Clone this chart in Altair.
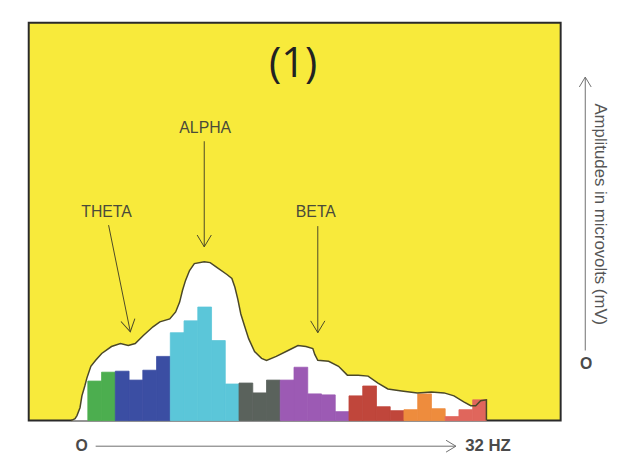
import math
import altair as alt
import pandas as pd

# ---------------- data ----------------
# frequency bands (colour groups of the spectrum bars)
bands = ["Band A", "Band B", "Band C", "Band D", "Band E", "Band F", "Band G", "Band H"]
band_colors = ["#4cae4f", "#3b4ea3", "#5bc6d9", "#5a625c", "#9c5ab4", "#c0463b", "#ee8c3d", "#e0665c"]
band_bins = [2, 4, 5, 3, 5, 4, 3, 3]

# amplitude of every frequency bin (arbitrary microvolt units)
bin_heights = [40, 49,
               50, 41, 51, 65,
               89, 101, 115, 81, 37,
               38, 28, 41,
               41, 54, 27, 26, 9,
               25, 35, 14, 10,
               11, 27, 12,
               4, 11, 21]

# envelope (white area with outline)
env_x = [-1.22, -0.93, -0.79, -0.57, -0.43, -0.22, -0.07, 0.22, 0.57, 1.01, 1.72, 2.37,
         2.94, 3.45, 4.02, 4.74, 5.24, 5.96, 6.39, 6.68, 6.89, 7.11, 7.40, 7.75, 8.47,
         8.90, 9.41, 10.12, 10.48, 10.70, 10.91, 11.13, 11.42, 11.70, 12.13, 12.64, 13.00,
         13.71, 14.57, 15.29, 15.87, 16.37, 16.51, 16.73, 17.52, 18.24, 18.88, 19.67, 20.39,
         21.11, 21.83, 22.83, 23.98, 24.99, 25.92, 26.64, 27.35, 27.86, 28.22, 28.58, 29.0, 29.0]
env_y = [0, 2, 5, 13, 25, 35, 43, 55, 61, 68, 75, 78,
         76, 78, 86, 95, 100, 103, 110, 120, 132, 142, 152, 159, 161,
         160, 155, 148, 144, 135, 123, 108, 95, 83, 70, 63, 61,
         65, 71, 76, 75, 73, 67, 61, 60, 55, 46, 46, 45,
         38, 32, 30, 28, 29, 28, 25, 19, 15, 15, 20, 21, 0]

# annotations (in the same data units)
label_text = ["THETA", "ALPHA", "BETA"]
label_x = [1.36, 8.54, 16.59]
label_y = [211, 296, 211]
arrow_x0 = [1.51, 8.47, 16.73]
arrow_y0 = [198, 283, 197]
arrow_x1 = [3.09, 8.47, 16.73]
arrow_y1 = [90, 176, 89]

title_text = "(1)"
title_x, title_y = 14.93, 361

axis_y_text = "Amplitudes in microvolts (mV)"
axis_y_x, axis_y_mid = 37.25, 209
axis_y_arrow = (36.19, 71, 36.19, 348)
axis_y_origin = (36.25, 57)

axis_x_arrow = (0.57, -26, 26.78, -26)
axis_x_origin = (-0.45, -26)
axis_x_end_text = "32 HZ"
axis_x_end = (27.45, -26)

# ---------------- frames ----------------
bin_band = [b for b, n in zip(bands, band_bins) for _ in range(n)]
bars = pd.DataFrame({
    "x0": list(range(len(bin_heights))),
    "x1": [i + 1 for i in range(len(bin_heights))],
    "h": bin_heights,
    "base": [0] * len(bin_heights),
    "band": bin_band,
})
env = pd.DataFrame({"u": env_x, "v": env_y, "i": list(range(len(env_x)))})

X_DOMAIN = [-4.3, 34.4]
Y_DOMAIN = [0, 403]
W, H = 539, 403
kx = W / (X_DOMAIN[1] - X_DOMAIN[0])
ky = H / (Y_DOMAIN[1] - Y_DOMAIN[0])


def head_angle(x0, y0, x1, y1):
    dx = (x1 - x0) * kx
    dy = -(y1 - y0) * ky
    return math.degrees(math.atan2(-dx, dy)) % 360


arrows = pd.DataFrame({"x0": arrow_x0, "y0": arrow_y0, "x1": arrow_x1, "y1": arrow_y1})
arrows["angle"] = [head_angle(a, b, c, d) for a, b, c, d in zip(arrow_x0, arrow_y0, arrow_x1, arrow_y1)]
labels = pd.DataFrame({"t": label_text, "x": label_x, "y": label_y})

gray_arrows = pd.DataFrame([axis_y_arrow, axis_x_arrow], columns=["x0", "y0", "x1", "y1"])
gray_arrows["angle"] = [head_angle(*r) for r in [axis_y_arrow, axis_x_arrow]]

XS = alt.Scale(domain=X_DOMAIN, nice=False, zero=False)
YS = alt.Scale(domain=Y_DOMAIN, nice=False, zero=False)


def xq(f):
    return alt.X(f, type="quantitative", scale=XS, axis=None)


def yq(f, **kw):
    return alt.Y(f, type="quantitative", scale=YS, axis=None, **kw)


OLIVE = "#4b4828"
GRAY = "#6e6e6e"
HEAD = "M-0.6,-1L0,0L0.6,-1"
band_scale = alt.Scale(domain=bands, range=band_colors)

area = alt.Chart(env).mark_area(color="white", interpolate="linear").encode(
    x=xq("u"), y=yq("v", stack=None))
outline = alt.Chart(env).mark_line(color=OLIVE, strokeWidth=1.5).encode(
    x=xq("u"), y=yq("v"), order="i:Q")
rects = alt.Chart(bars).mark_rect(strokeWidth=0.8).encode(
    x=xq("x0"), x2="x1", y=yq("h"), y2="base",
    color=alt.Color("band:N", scale=band_scale, legend=None),
    stroke=alt.Stroke("band:N", scale=band_scale, legend=None))

shafts = alt.Chart(arrows).mark_rule(color=OLIVE, strokeWidth=1).encode(
    x=xq("x0"), y=yq("y0"), x2="x1", y2="y1")
heads = alt.Chart(arrows).mark_point(shape=HEAD, filled=False, stroke=OLIVE, strokeWidth=1,
                                     size=576, opacity=1).encode(
    x=xq("x1"), y=yq("y1"), angle=alt.Angle("angle:Q", scale=None))
label_marks = alt.Chart(labels).mark_text(font="Liberation Sans", fontSize=16, color="#4a4a3a",
                                          align="center", baseline="middle").encode(
    x=xq("x"), y=yq("y"), text="t:N")

title = alt.Chart(pd.DataFrame({"t": [title_text], "x": [title_x], "y": [title_y]})).mark_text(
    font="Open Sans", fontSize=42, color="#222222", align="center", baseline="middle").encode(
    x=xq("x"), y=yq("y"), text="t:N")

g_shafts = alt.Chart(gray_arrows).mark_rule(color=GRAY, strokeWidth=1).encode(
    x=xq("x0"), y=yq("y0"), x2="x1", y2="y1")
g_heads = alt.Chart(gray_arrows).mark_point(shape=HEAD, filled=False, stroke=GRAY, strokeWidth=1,
                                            size=400, opacity=1).encode(
    x=xq("x1"), y=yq("y1"), angle=alt.Angle("angle:Q", scale=None))

ytext = alt.Chart(pd.DataFrame({"t": [axis_y_text], "x": [axis_y_x], "y": [axis_y_mid]})).mark_text(
    font="Liberation Sans", fontSize=17, color="#555555", angle=90, align="center",
    baseline="middle").encode(x=xq("x"), y=yq("y"), text="t:N")

origins = pd.DataFrame({"t": ["O", "O"], "x": [axis_x_origin[0], axis_y_origin[0]],
                        "y": [axis_x_origin[1], axis_y_origin[1]]})
origin_marks = alt.Chart(origins).mark_text(font="Liberation Sans", fontSize=16, fontWeight="bold",
                                            color="#4a4a4a", align="center", baseline="middle").encode(
    x=xq("x"), y=yq("y"), text="t:N")
end_mark = alt.Chart(pd.DataFrame({"t": [axis_x_end_text], "x": [axis_x_end[0]], "y": [axis_x_end[1]]})).mark_text(
    font="Liberation Sans", fontSize=17, fontWeight="bold", color="#4a4a4a", align="left",
    baseline="middle").encode(x=xq("x"), y=yq("y"), text="t:N")

chart = alt.layer(
    area, rects, outline, shafts, heads, label_marks, title,
    g_shafts, g_heads, ytext, origin_marks, end_mark,
).properties(
    width=W, height=H,
    padding={"left": 21, "top": 12, "right": 50, "bottom": 40},
    autosize=alt.AutoSizeParams(type="none"),
    background="white",
).configure_view(
    fill="#f8ea3b", stroke="#2a2a2a", strokeWidth=2,
)

chart.save("out.html", embed_options={"renderer": "svg", "actions": False})
